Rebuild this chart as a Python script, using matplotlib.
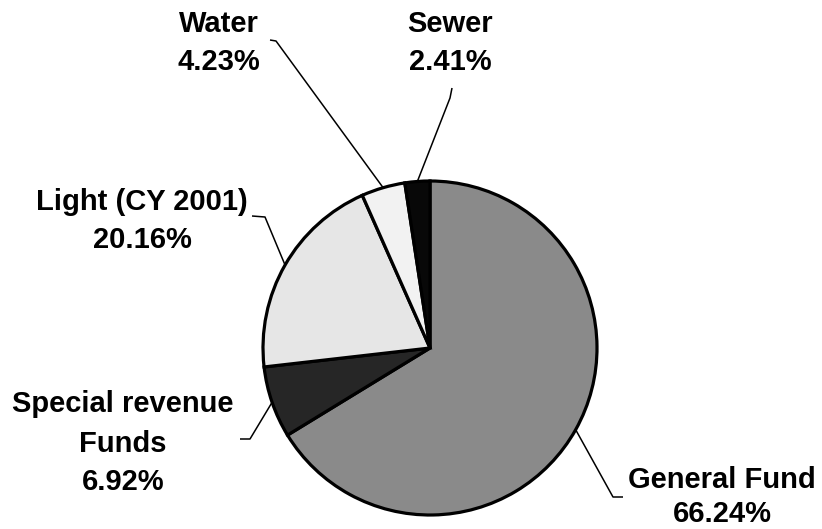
import matplotlib
matplotlib.use("Agg")
import matplotlib.pyplot as plt
import numpy as np

labels = ["General Fund", "Special revenue\nFunds", "Light (CY 2001)", "Water", "Sewer"]
values = [66.24, 6.92, 20.16, 4.23, 2.41]
colors = ["#8a8a8a", "#262626", "#e6e6e6", "#f2f2f2", "#080808"]

W, H = 822, 529
fig = plt.figure(figsize=(W / 100, H / 100), dpi=100)
ax = fig.add_axes([0, 0, 1, 1])

cx, cy, r = 430, H - 348, 167
wedges, _ = ax.pie(values, colors=colors, startangle=90, counterclock=False,
                   center=(cx, cy), radius=r, frame=True,
                   wedgeprops=dict(edgecolor="black", linewidth=2.3))
ax.set_xlim(0, W)
ax.set_ylim(0, H)
ax.set_aspect("equal")
ax.axis("off")

font = dict(family=["Liberation Sans", "DejaVu Sans"], fontweight="bold",
            fontsize=21, color="black")

# label layout: text center x, cap-center y of each line (top-origin pixels), leader elbow points
layout = [
    dict(x=722, ys=[477, 512], pts=[(623, 497), (613, 497)]),
    dict(x=123, ys=[401, 441, 479], pts=[(240, 439), (250, 439)]),
    dict(x=142, ys=[199, 237], pts=[(252, 216), (265, 217)]),
    dict(x=219, ys=[22, 59], pts=[(270, 40), (276, 41)]),
    dict(x=450, ys=[22, 59], pts=[(452, 88), (450, 98)]),
]

for w, lab, val, lay in zip(wedges, labels, values, layout):
    ang = np.deg2rad((w.theta1 + w.theta2) / 2)
    ex, ey = cx + r * np.cos(ang), cy + r * np.sin(ang)
    xs = [p[0] for p in lay["pts"]] + [ex]
    ys = [H - p[1] for p in lay["pts"]] + [ey]
    ax.plot(xs, ys, color="black", lw=1.1, solid_capstyle="butt")
    lines = lab.split("\n") + [f"{val:.2f}%"]
    for line, ly in zip(lines, lay["ys"]):
        ax.text(lay["x"], H - (ly + 10.5), line, ha="center", va="baseline", **font)

fig.savefig("out.png", dpi=100)
